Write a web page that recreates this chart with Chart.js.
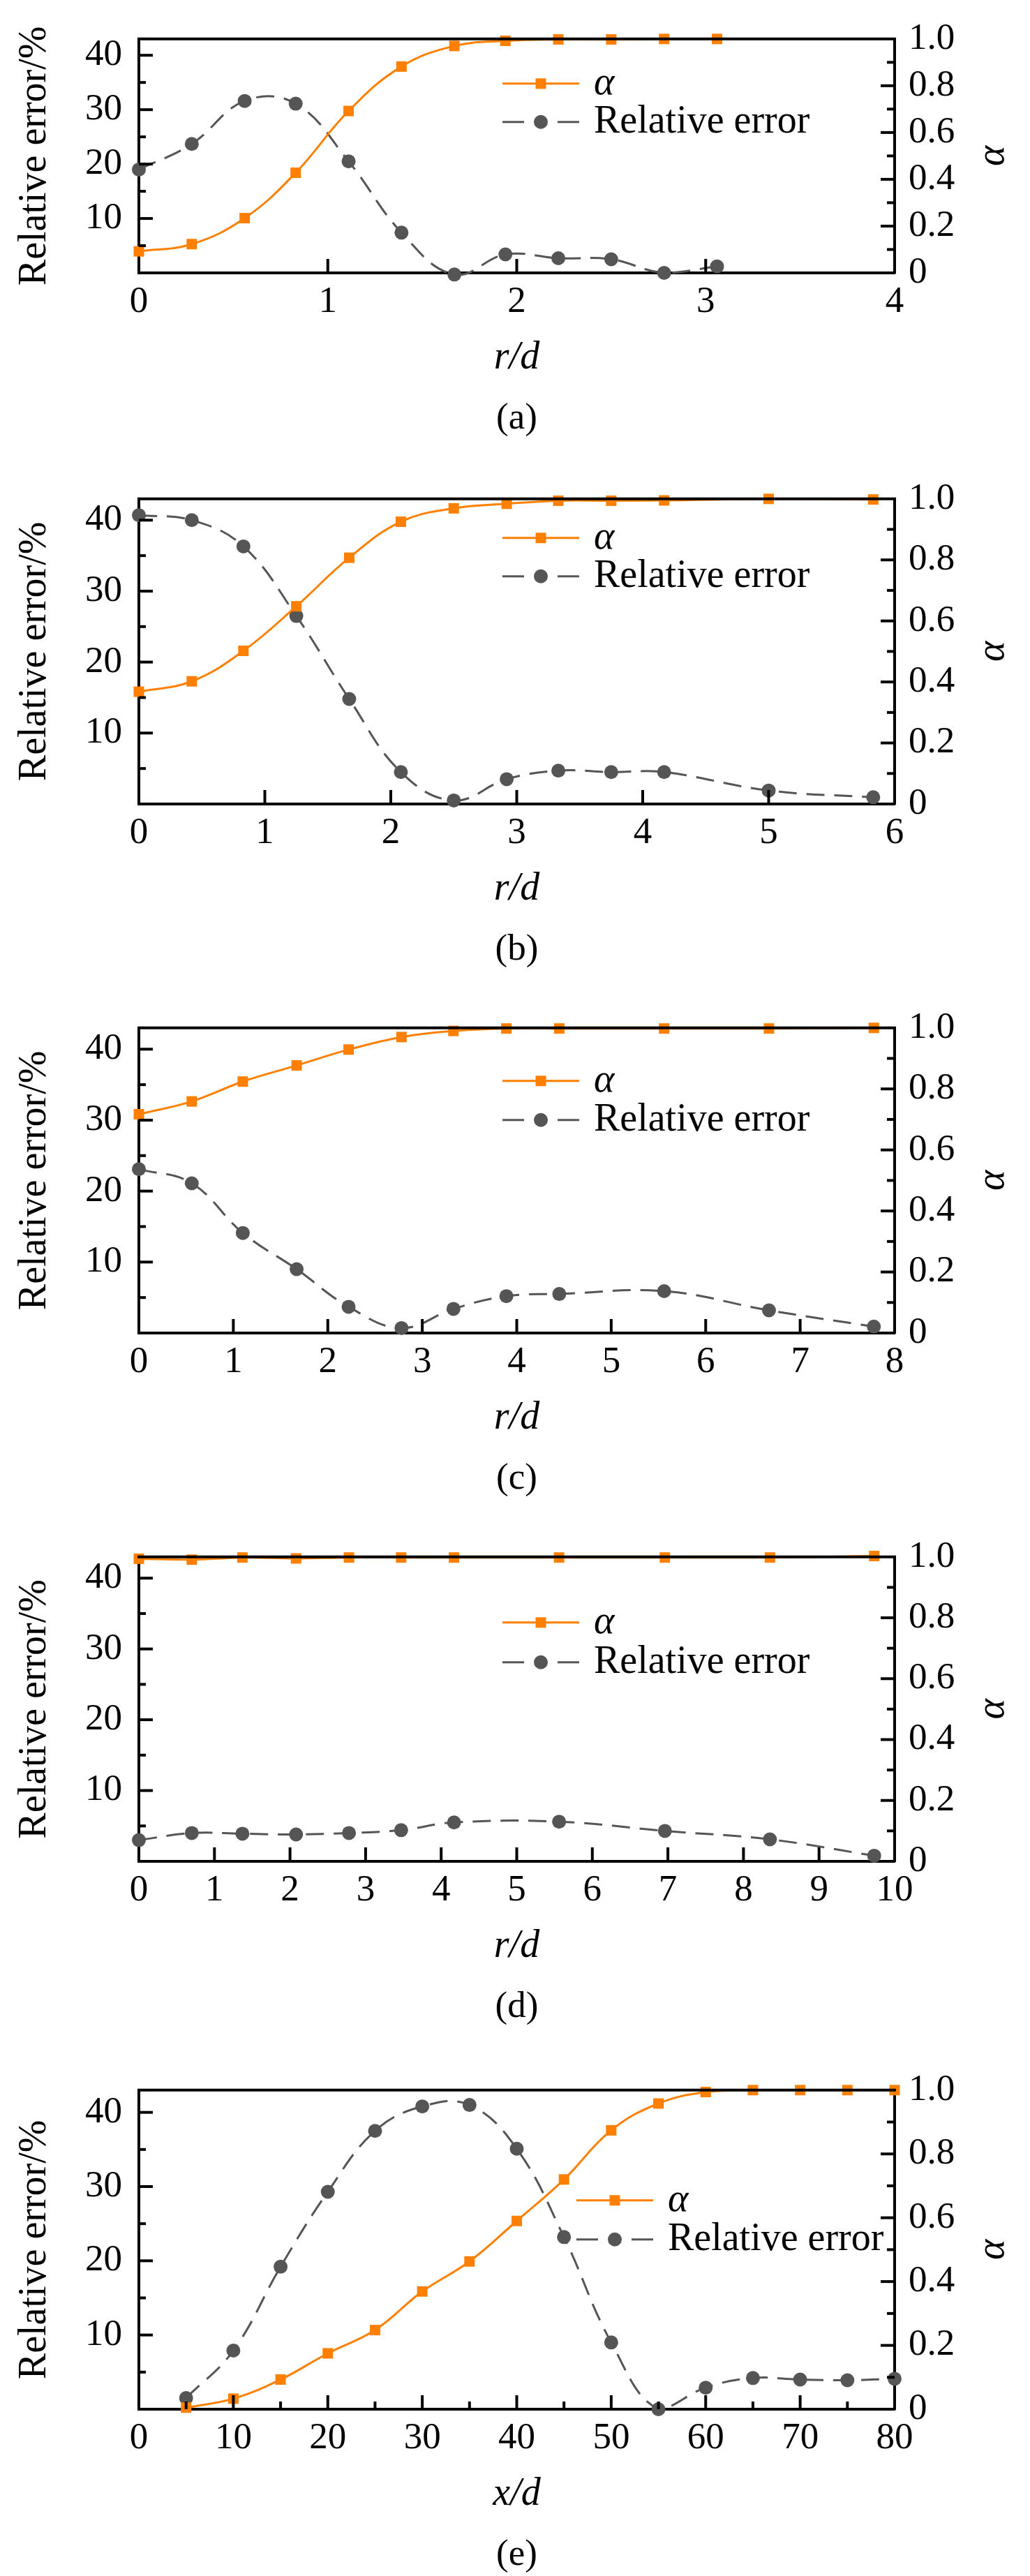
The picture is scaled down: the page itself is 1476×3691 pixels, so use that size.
<!DOCTYPE html>
<html>
<head>
<meta charset="utf-8">
<script src="https://cdn.jsdelivr.net/npm/chart.js@4.4.1/dist/chart.umd.min.js"></script>
<style>
	html, body { margin: 0; padding: 0; background: #fff; overflow: hidden; }
	body { font-family: 'Liberation Serif', 'Times New Roman', serif; }
	canvas { position: absolute; left: 0; }
</style>
</head>
<body>
<canvas id="chart_a"></canvas>
<canvas id="chart_b"></canvas>
<canvas id="chart_c"></canvas>
<canvas id="chart_d"></canvas>
<canvas id="chart_e"></canvas>
<script>
// ---- data ----
const xA = [0, 0.28, 0.56, 0.83, 1.11, 1.39, 1.67, 1.94, 2.22, 2.5, 2.78, 3.06]
const alphaA = [0.092, 0.123, 0.234, 0.428, 0.692, 0.882, 0.970, 0.992, 0.998, 0.998, 1.0, 1.0]
const errA = [19.0, 23.7, 31.6, 31.1, 20.5, 7.4, -0.3, 3.4, 2.7, 2.5, 0, 1.2]

const xB = [0, 0.42, 0.83, 1.25, 1.67, 2.08, 2.5, 2.92, 3.33, 3.75, 4.17, 5.0, 5.83]
const alphaB = [0.368, 0.402, 0.502, 0.648, 0.807, 0.925, 0.969, 0.984, 0.994, 0.994, 0.995, 1.0, 0.998]
const errB = [40.7, 40.0, 36.3, 26.5, 14.8, 4.5, 0.5, 3.5, 4.7, 4.5, 4.5, 1.9, 0.95]

const xC = [0, 0.56, 1.1, 1.67, 2.22, 2.78, 3.33, 3.89, 4.45, 5.56, 6.67, 7.78]
const alphaC = [0.717, 0.759, 0.824, 0.877, 0.929, 0.970, 0.990, 0.998, 0.998, 0.998, 0.998, 1.0]
const errC = [23.1, 21.1, 14.1, 9.0, 3.7, 0.7, 3.4, 5.2, 5.5, 5.9, 3.2, 0.9]

const xD = [0, 0.7, 1.37, 2.08, 2.78, 3.47, 4.17, 5.56, 6.96, 8.35, 9.73]
const alphaD = [0.994, 0.991, 0.998, 0.995, 0.998, 0.998, 0.998, 0.998, 0.998, 0.998, 1.003]
const errD = [3.0, 4.0, 3.9, 3.8, 4.0, 4.4, 5.5, 5.6, 4.3, 3.1, 0.8]

const xE = [5, 10, 15, 20, 25, 30, 35, 40, 45, 50, 55, 60, 65, 70, 75, 80]
const alphaE = [0.005, 0.033, 0.093, 0.175, 0.248, 0.369, 0.463, 0.590, 0.720, 0.874, 0.958, 0.994, 1.0, 1.0, 1.0, 1.0]
const errE = [1.5, 7.9, 19.2, 29.3, 37.5, 40.8, 41.0, 35.1, 23.2, 9.0, 0, 2.9, 4.2, 4.0, 3.9, 4.1]

const legendLabels = ['α', 'Relative error']
const xTitles = ['r/d', 'r/d', 'r/d', 'r/d', 'x/d']
const panelLabels = ['(a)', '(b)', '(c)', '(d)', '(e)']
const xMaxList = [4, 6, 8, 10, 80]
const xStepList = [1, 1, 1, 1, 10]
const errTicks = [0, 10, 20, 30, 40]
const alphaTicks = ['0', '0.2', '0.4', '0.6', '0.8', '1.0']

const xList = [xA, xB, xC, xD, xE]
const alphaList = [alphaA, alphaB, alphaC, alphaD, alphaE]
const errList = [errA, errB, errC, errD, errE]

// ---- layout (px) ----
const plotTop = [28, 699, 1457, 2215, 2979]
const plotBottom = [391, 1152, 1910, 2667, 3452]
const legendRows = [[64, 119], [56, 111], [76, 132], [94, 151], [158, 214]]
const legendLeft = [720, 720, 720, 720, 826]
const PAGE_W = 1476
const LEFT_W = 199
const RIGHT_W = 194
const BOTTOM_H = 235

const ORANGE = '#ff8000'
const GRAY = '#555555'
const FONT = "'Liberation Serif', 'Times New Roman', serif"

Chart.defaults.font.family = FONT
Chart.defaults.color = '#000'

//프레임, 안쪽 눈금, 범례, 라벨
const decorPlugin = {
	id: 'decor',
	afterDatasetsDraw(chart, args, opts) {
		const ctx = chart.ctx
		const a = chart.chartArea
		const sx = chart.scales.x, sy = chart.scales.y, sy1 = chart.scales.y1
		ctx.save()
		ctx.strokeStyle = '#000'
		ctx.lineWidth = 4
		const line = (x1, y1, x2, y2) => {
			ctx.beginPath(); ctx.moveTo(x1, y1); ctx.lineTo(x2, y2); ctx.stroke()
		}
		line(a.left - 2, a.top, a.right + 2, a.top)

		// x ticks (inward)
		const xs = sx.ticks.map(t => t.value)
		xs.forEach((v, i) => {
			if (v > sx.min && v < sx.max) {
				const p = sx.getPixelForValue(v)
				line(p, a.bottom, p, a.bottom - 20)
			}
			if (opts.minorX && i < xs.length - 1) {
				const p = sx.getPixelForValue((v + xs[i + 1]) / 2)
				line(p, a.bottom, p, a.bottom - 11)
			}
		})
		// left ticks
		sy.ticks.forEach(t => {
			const v = t.value
			if (v > sy.min && v < sy.max) {
				const p = sy.getPixelForValue(v)
				line(a.left, p, a.left + 20, p)
			}
			if (v + 5 < sy.max) {
				const p = sy.getPixelForValue(v + 5)
				line(a.left, p, a.left + 10, p)
			}
		})
		// right ticks
		sy1.ticks.forEach(t => {
			const v = t.value
			if (v > 0.01 && v < 0.99) {
				const p = sy1.getPixelForValue(v)
				line(a.right, p, a.right - 20, p)
			}
			if (v < 0.99) {
				const p = sy1.getPixelForValue(v + 0.1)
				line(a.right, p, a.right - 11, p)
			}
		})
		ctx.restore()
	},
	afterDraw(chart, args, opts) {
		const ctx = chart.ctx
		const a = chart.chartArea
		const ds = chart.data.datasets
		ctx.save()
		// legend
		const x0 = opts.legendX, x1 = opts.legendX + 110
		const xm = (x0 + x1) / 2
		const r1 = a.top + opts.legendRows[0], r2 = a.top + opts.legendRows[1]
		ctx.lineWidth = 3
		ctx.strokeStyle = ORANGE
		ctx.fillStyle = ORANGE
		ctx.beginPath(); ctx.moveTo(x0, r1); ctx.lineTo(x1, r1); ctx.stroke()
		ctx.fillRect(xm - 7.5, r1 - 7.5, 15, 15)
		ctx.strokeStyle = GRAY
		ctx.fillStyle = GRAY
		ctx.beginPath(); ctx.moveTo(x0, r2); ctx.lineTo(x0 + 31, r2); ctx.stroke()
		ctx.beginPath(); ctx.moveTo(x1 - 31, r2); ctx.lineTo(x1, r2); ctx.stroke()
		ctx.beginPath(); ctx.arc(xm, r2, 10, 0, Math.PI * 2); ctx.fill()
		ctx.fillStyle = '#000'
		ctx.textBaseline = 'middle'
		ctx.textAlign = 'left'
		ctx.font = 'italic 56px ' + FONT
		ctx.fillText(ds[0].label, x1 + 21, r1)
		ctx.font = '56px ' + FONT
		ctx.fillText(ds[1].label, x1 + 21, r2)

		// right axis title
		ctx.save()
		ctx.translate(1423, (a.top + a.bottom) / 2)
		ctx.rotate(-Math.PI / 2)
		ctx.textAlign = 'center'
		ctx.font = 'italic 56px ' + FONT
		ctx.fillText('α', 0, 0)
		ctx.restore()

		// panel label
		ctx.textAlign = 'center'
		ctx.font = '53px ' + FONT
		ctx.fillText(opts.label, (a.left + a.right) / 2, a.bottom + 209)
		ctx.restore()
	}
}

function makePanel(i) {
	const canvas = document.getElementById('chart_' + 'abcde'[i])
	const pad = Math.min(40, plotTop[i])
	const top = plotTop[i] - pad
	const h = pad + (plotBottom[i] - plotTop[i]) + BOTTOM_H
	canvas.width = PAGE_W
	canvas.height = h
	canvas.style.top = top + 'px'
	canvas.style.width = PAGE_W + 'px'
	canvas.style.height = h + 'px'

	const alphaData = xList[i].map((x, j) => ({ x: x, y: alphaList[i][j] }))
	const errData = xList[i].map((x, j) => ({ x: x, y: errList[i][j] }))

	new Chart(canvas.getContext('2d'), {
		type: 'line',
		data: {
			datasets: [{
				label: legendLabels[0],
				data: alphaData,
				yAxisID: 'y1',
				borderColor: ORANGE,
				backgroundColor: ORANGE,
				borderWidth: 3,
				pointStyle: 'rect',
				pointRadius: 10.6,
				pointBorderWidth: 0,
				tension: 0.4,
				clip: false
			}, {
				label: legendLabels[1],
				data: errData,
				yAxisID: 'y',
				borderColor: GRAY,
				backgroundColor: GRAY,
				borderWidth: 3,
				borderDash: [26, 14],
				pointStyle: 'circle',
				pointRadius: 10,
				pointBorderWidth: 0,
				tension: 0.4,
				clip: false
			}]
		},
		options: {
			responsive: false,
			animation: false,
			events: [],
			devicePixelRatio: 1,
			layout: { padding: { top: pad, left: 0, right: 0, bottom: 0 } },
			plugins: {
				legend: { display: false },
				tooltip: { enabled: false },
				decor: {
					label: panelLabels[i],
					legendX: legendLeft[i],
					legendRows: legendRows[i],
					minorX: i === 4
				}
			},
			scales: {
				x: {
					type: 'linear',
					position: 'bottom',
					min: 0,
					max: xMaxList[i],
					grid: { display: false, drawTicks: false },
					border: { display: true, color: '#000', width: 4 },
					ticks: {
						stepSize: xStepList[i],
						autoSkip: false,
						maxRotation: 0,
						padding: 10,
						color: '#000',
						font: { size: 53 }
					},
					title: {
						display: true,
						text: xTitles[i],
						color: '#000',
						font: { size: 56, style: 'italic' },
						padding: { top: 0, bottom: 79 }
					},
					afterFit: s => { s.height = BOTTOM_H }
				},
				y: {
					position: 'left',
					min: 0,
					max: 43,
					grid: { display: false, drawTicks: false },
					border: { display: true, color: '#000', width: 4 },
					afterBuildTicks: s => { s.ticks = errTicks.map(v => ({ value: v })) },
					ticks: {
						autoSkip: false,
						padding: 24,
						color: '#000',
						font: { size: 53 },
						callback: v => (v === 0 ? '' : String(v))
					},
					title: {
						display: true,
						text: 'Relative error/%',
						color: '#000',
						font: { size: 56 },
						padding: { top: 17, bottom: 0 }
					},
					afterFit: s => { s.width = LEFT_W }
				},
				y1: {
					position: 'right',
					min: 0,
					max: 1,
					grid: { display: false, drawTicks: false },
					border: { display: true, color: '#000', width: 4 },
					afterBuildTicks: s => { s.ticks = alphaTicks.map(v => ({ value: parseFloat(v) })) },
					ticks: {
						autoSkip: false,
						padding: 20,
						color: '#000',
						font: { size: 53 },
						callback: (v, idx) => alphaTicks[idx]
					},
					afterFit: s => { s.width = RIGHT_W }
				}
			}
		},
		plugins: [decorPlugin]
	})
}

for (let i = 0; i < 5; i++) {
	makePanel(i)
}
</script>
</body>
</html>
